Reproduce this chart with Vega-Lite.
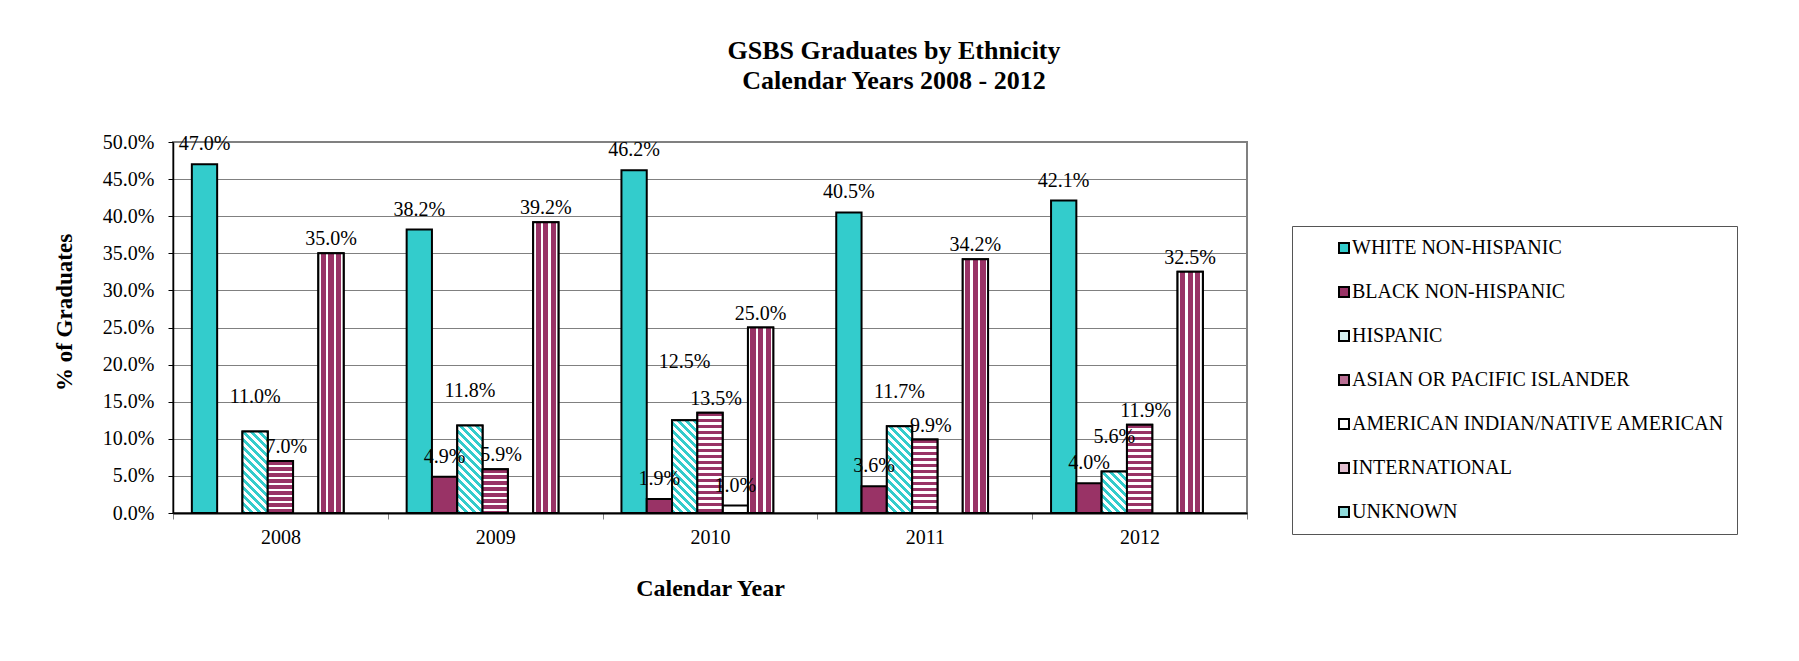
{
  "$schema": "https://vega.github.io/schema/vega-lite/v6.json",
  "autosize": "none",
  "width": 1074,
  "height": 371,
  "padding": {"left": 173, "top": 142, "right": 552, "bottom": 148},
  "background": "white",
  "title": {
    "text": ["GSBS Graduates by Ethnicity", "Calendar Years 2008 - 2012"],
    "font": "Liberation Serif",
    "fontSize": 26,
    "fontWeight": "bold",
    "color": "black",
    "anchor": "middle",
    "frame": "group",
    "dx": 184,
    "lineHeight": 30,
    "offset": 38
  },
  "config": {
    "view": {"stroke": "#808080", "strokeWidth": 2},
    "font": "Liberation Serif"
  },
  "data": {
    "values": [
      {"year": "2008", "eth": "WHITE NON-HISPANIC", "value": 0.470},
      {"year": "2008", "eth": "HISPANIC", "value": 0.110},
      {"year": "2008", "eth": "ASIAN OR PACIFIC ISLANDER", "value": 0.070},
      {"year": "2008", "eth": "INTERNATIONAL", "value": 0.350},
      {"year": "2009", "eth": "WHITE NON-HISPANIC", "value": 0.382},
      {"year": "2009", "eth": "BLACK NON-HISPANIC", "value": 0.049},
      {"year": "2009", "eth": "HISPANIC", "value": 0.118},
      {"year": "2009", "eth": "ASIAN OR PACIFIC ISLANDER", "value": 0.059},
      {"year": "2009", "eth": "INTERNATIONAL", "value": 0.392},
      {"year": "2010", "eth": "WHITE NON-HISPANIC", "value": 0.462},
      {"year": "2010", "eth": "BLACK NON-HISPANIC", "value": 0.019},
      {"year": "2010", "eth": "HISPANIC", "value": 0.125},
      {"year": "2010", "eth": "ASIAN OR PACIFIC ISLANDER", "value": 0.135},
      {"year": "2010", "eth": "AMERICAN INDIAN/NATIVE AMERICAN", "value": 0.010},
      {"year": "2010", "eth": "INTERNATIONAL", "value": 0.250},
      {"year": "2011", "eth": "WHITE NON-HISPANIC", "value": 0.405},
      {"year": "2011", "eth": "BLACK NON-HISPANIC", "value": 0.036},
      {"year": "2011", "eth": "HISPANIC", "value": 0.117},
      {"year": "2011", "eth": "ASIAN OR PACIFIC ISLANDER", "value": 0.099},
      {"year": "2011", "eth": "INTERNATIONAL", "value": 0.342},
      {"year": "2012", "eth": "WHITE NON-HISPANIC", "value": 0.421},
      {"year": "2012", "eth": "BLACK NON-HISPANIC", "value": 0.040},
      {"year": "2012", "eth": "HISPANIC", "value": 0.056},
      {"year": "2012", "eth": "ASIAN OR PACIFIC ISLANDER", "value": 0.119},
      {"year": "2012", "eth": "INTERNATIONAL", "value": 0.325}
    ]
  },
  "encoding": {
    "x": {
      "field": "year", "type": "nominal",
      "scale": {"paddingInner": 0, "paddingOuter": 0, "round": false},
      "axis": {
        "title": "Calendar Year", "labelAngle": 0, "tickBand": "extent",
        "labelFont": "Liberation Serif", "labelFontSize": 20, "labelColor": "black", "labelPadding": 8,
        "tickSize": 6, "tickColor": "#808080", "domainColor": "black", "domainWidth": 2,
        "titleFont": "Liberation Serif", "titleFontSize": 24, "titleFontWeight": "bold", "titleColor": "black", "titlePadding": 29
      }
    },
    "xOffset": {
      "field": "eth", "type": "nominal",
      "scale": {
        "domain": ["WHITE NON-HISPANIC", "BLACK NON-HISPANIC", "HISPANIC", "ASIAN OR PACIFIC ISLANDER", "AMERICAN INDIAN/NATIVE AMERICAN", "INTERNATIONAL", "UNKNOWN"],
        "paddingInner": 0, "paddingOuter": 0.745, "round": false
      }
    },
    "y": {
      "field": "value", "type": "quantitative",
      "scale": {"domain": [0, 0.5], "nice": false},
      "axis": {
        "title": "% of Graduates", "format": ".1%",
        "values": [0, 0.05, 0.1, 0.15, 0.2, 0.25, 0.3, 0.35, 0.4, 0.45, 0.5],
        "labelFont": "Liberation Serif", "labelFontSize": 20, "labelColor": "black", "labelPadding": 14,
        "tickSize": 5, "tickColor": "black", "domainColor": "black", "domainWidth": 1.5,
        "gridColor": "#808080", "gridWidth": 1,
        "titleFont": "Liberation Serif", "titleFontSize": 23, "titleFontWeight": "bold", "titleColor": "black", "titlePadding": 26,
        "titleY": 170
      }
    }
  },
  "layer": [
    {
      "mark": {"type": "bar", "stroke": "black", "strokeWidth": 2},
      "encoding": {
        "fill": {
          "field": "eth", "type": "nominal",
          "scale": {
            "domain": ["WHITE NON-HISPANIC", "BLACK NON-HISPANIC", "HISPANIC", "ASIAN OR PACIFIC ISLANDER", "AMERICAN INDIAN/NATIVE AMERICAN", "INTERNATIONAL", "UNKNOWN"],
            "range": ["#33cccc", "#993366", "#d9f4f4", "#b96e93", "#ffffff", "#e2bfd0", "#8fdcdc"]
          },
          "legend": {
            "orient": "none", "legendX": 1119, "legendY": 84, "title": null,
            "labelFont": "Liberation Serif", "labelFontSize": 20, "labelColor": "black", "labelLimit": 600,
            "labelExpr": "datum.label + '      '",
            "symbolType": "square", "symbolSize": 100, "symbolStrokeColor": "black", "symbolStrokeWidth": 2,
            "rowPadding": 24, "padding": 12, "strokeColor": "#555555", "fillColor": "white",
            "symbolOffset": 30, "labelOffset": -2
          }
        }
      }
    },
    {
      "transform": [{"filter": "datum.eth == 'HISPANIC'"}],
      "mark": {"type": "bar", "stroke": "black", "strokeWidth": 2},
      "encoding": {
        "fill": {"value": {"expr": "{gradient:'linear',x1:0,y1:1,x2:3238.4/(640.09+pow(datum.value*742,2)),y2:1-94976*datum.value/(640.09+pow(datum.value*742,2)),stops:[{offset:0,color:'#33cccc'},{offset:0.03125,color:'#33cccc'},{offset:0.03125,color:'#ffffff'},{offset:0.0625,color:'#ffffff'},{offset:0.0625,color:'#33cccc'},{offset:0.09375,color:'#33cccc'},{offset:0.09375,color:'#ffffff'},{offset:0.125,color:'#ffffff'},{offset:0.125,color:'#33cccc'},{offset:0.15625,color:'#33cccc'},{offset:0.15625,color:'#ffffff'},{offset:0.1875,color:'#ffffff'},{offset:0.1875,color:'#33cccc'},{offset:0.21875,color:'#33cccc'},{offset:0.21875,color:'#ffffff'},{offset:0.25,color:'#ffffff'},{offset:0.25,color:'#33cccc'},{offset:0.28125,color:'#33cccc'},{offset:0.28125,color:'#ffffff'},{offset:0.3125,color:'#ffffff'},{offset:0.3125,color:'#33cccc'},{offset:0.34375,color:'#33cccc'},{offset:0.34375,color:'#ffffff'},{offset:0.375,color:'#ffffff'},{offset:0.375,color:'#33cccc'},{offset:0.40625,color:'#33cccc'},{offset:0.40625,color:'#ffffff'},{offset:0.4375,color:'#ffffff'},{offset:0.4375,color:'#33cccc'},{offset:0.46875,color:'#33cccc'},{offset:0.46875,color:'#ffffff'},{offset:0.5,color:'#ffffff'},{offset:0.5,color:'#33cccc'},{offset:0.53125,color:'#33cccc'},{offset:0.53125,color:'#ffffff'},{offset:0.5625,color:'#ffffff'},{offset:0.5625,color:'#33cccc'},{offset:0.59375,color:'#33cccc'},{offset:0.59375,color:'#ffffff'},{offset:0.625,color:'#ffffff'},{offset:0.625,color:'#33cccc'},{offset:0.65625,color:'#33cccc'},{offset:0.65625,color:'#ffffff'},{offset:0.6875,color:'#ffffff'},{offset:0.6875,color:'#33cccc'},{offset:0.71875,color:'#33cccc'},{offset:0.71875,color:'#ffffff'},{offset:0.75,color:'#ffffff'},{offset:0.75,color:'#33cccc'},{offset:0.78125,color:'#33cccc'},{offset:0.78125,color:'#ffffff'},{offset:0.8125,color:'#ffffff'},{offset:0.8125,color:'#33cccc'},{offset:0.84375,color:'#33cccc'},{offset:0.84375,color:'#ffffff'},{offset:0.875,color:'#ffffff'},{offset:0.875,color:'#33cccc'},{offset:0.90625,color:'#33cccc'},{offset:0.90625,color:'#ffffff'},{offset:0.9375,color:'#ffffff'},{offset:0.9375,color:'#33cccc'},{offset:0.96875,color:'#33cccc'},{offset:0.96875,color:'#ffffff'},{offset:1,color:'#ffffff'}]}"}}
      }
    },
    {
      "transform": [{"filter": "datum.eth == 'ASIAN OR PACIFIC ISLANDER'"}],
      "mark": {"type": "bar", "stroke": "black", "strokeWidth": 2},
      "encoding": {
        "fill": {"value": {"expr": "{gradient:'linear',x1:0,y1:0,x2:0,y2:108/(datum.value*742),stops:[{offset:0,color:'#993366'},{offset:0.03222,color:'#993366'},{offset:0.03222,color:'#ffffff'},{offset:0.05556,color:'#ffffff'},{offset:0.05556,color:'#993366'},{offset:0.08778,color:'#993366'},{offset:0.08778,color:'#ffffff'},{offset:0.11111,color:'#ffffff'},{offset:0.11111,color:'#993366'},{offset:0.14333,color:'#993366'},{offset:0.14333,color:'#ffffff'},{offset:0.16667,color:'#ffffff'},{offset:0.16667,color:'#993366'},{offset:0.19889,color:'#993366'},{offset:0.19889,color:'#ffffff'},{offset:0.22222,color:'#ffffff'},{offset:0.22222,color:'#993366'},{offset:0.25444,color:'#993366'},{offset:0.25444,color:'#ffffff'},{offset:0.27778,color:'#ffffff'},{offset:0.27778,color:'#993366'},{offset:0.31,color:'#993366'},{offset:0.31,color:'#ffffff'},{offset:0.33333,color:'#ffffff'},{offset:0.33333,color:'#993366'},{offset:0.36556,color:'#993366'},{offset:0.36556,color:'#ffffff'},{offset:0.38889,color:'#ffffff'},{offset:0.38889,color:'#993366'},{offset:0.42111,color:'#993366'},{offset:0.42111,color:'#ffffff'},{offset:0.44444,color:'#ffffff'},{offset:0.44444,color:'#993366'},{offset:0.47667,color:'#993366'},{offset:0.47667,color:'#ffffff'},{offset:0.5,color:'#ffffff'},{offset:0.5,color:'#993366'},{offset:0.53222,color:'#993366'},{offset:0.53222,color:'#ffffff'},{offset:0.55556,color:'#ffffff'},{offset:0.55556,color:'#993366'},{offset:0.58778,color:'#993366'},{offset:0.58778,color:'#ffffff'},{offset:0.61111,color:'#ffffff'},{offset:0.61111,color:'#993366'},{offset:0.64333,color:'#993366'},{offset:0.64333,color:'#ffffff'},{offset:0.66667,color:'#ffffff'},{offset:0.66667,color:'#993366'},{offset:0.69889,color:'#993366'},{offset:0.69889,color:'#ffffff'},{offset:0.72222,color:'#ffffff'},{offset:0.72222,color:'#993366'},{offset:0.75444,color:'#993366'},{offset:0.75444,color:'#ffffff'},{offset:0.77778,color:'#ffffff'},{offset:0.77778,color:'#993366'},{offset:0.81,color:'#993366'},{offset:0.81,color:'#ffffff'},{offset:0.83333,color:'#ffffff'},{offset:0.83333,color:'#993366'},{offset:0.86556,color:'#993366'},{offset:0.86556,color:'#ffffff'},{offset:0.88889,color:'#ffffff'},{offset:0.88889,color:'#993366'},{offset:0.92111,color:'#993366'},{offset:0.92111,color:'#ffffff'},{offset:0.94444,color:'#ffffff'},{offset:0.94444,color:'#993366'},{offset:0.97667,color:'#993366'},{offset:0.97667,color:'#ffffff'},{offset:1,color:'#ffffff'}]}"}}
      }
    },
    {
      "transform": [{"filter": "datum.eth == 'INTERNATIONAL'"}],
      "mark": {"type": "bar", "stroke": "black", "strokeWidth": 2},
      "encoding": {
        "fill": {"value": {"gradient": "linear", "x1": 0, "y1": 0, "x2": 1, "y2": 0, "stops": [
          {"offset": 0, "color": "#ffffff"}, {"offset": 0.1, "color": "#ffffff"},
          {"offset": 0.1, "color": "#993366"}, {"offset": 0.3, "color": "#993366"},
          {"offset": 0.3, "color": "#ffffff"}, {"offset": 0.4, "color": "#ffffff"},
          {"offset": 0.4, "color": "#993366"}, {"offset": 0.6, "color": "#993366"},
          {"offset": 0.6, "color": "#ffffff"}, {"offset": 0.7, "color": "#ffffff"},
          {"offset": 0.7, "color": "#993366"}, {"offset": 0.9, "color": "#993366"},
          {"offset": 0.9, "color": "#ffffff"}, {"offset": 1, "color": "#ffffff"}
        ]}}
      }
    },
    {
      "mark": {
        "type": "text", "font": "Liberation Serif", "fontSize": 20, "color": "black", "baseline": "alphabetic",
        "dy": {"expr": "datum.eth == 'HISPANIC' ? (datum.value > 0.12 ? -52 : -28) : ((datum.eth == 'ASIAN OR PACIFIC ISLANDER' || datum.eth == 'INTERNATIONAL') ? -8 : -14)"},
        "dx": {"expr": "datum.eth == 'ASIAN OR PACIFIC ISLANDER' ? 6 : 0"}
      },
      "encoding": {
        "text": {"field": "value", "type": "quantitative", "format": ".1%"}
      }
    }
  ]
}
